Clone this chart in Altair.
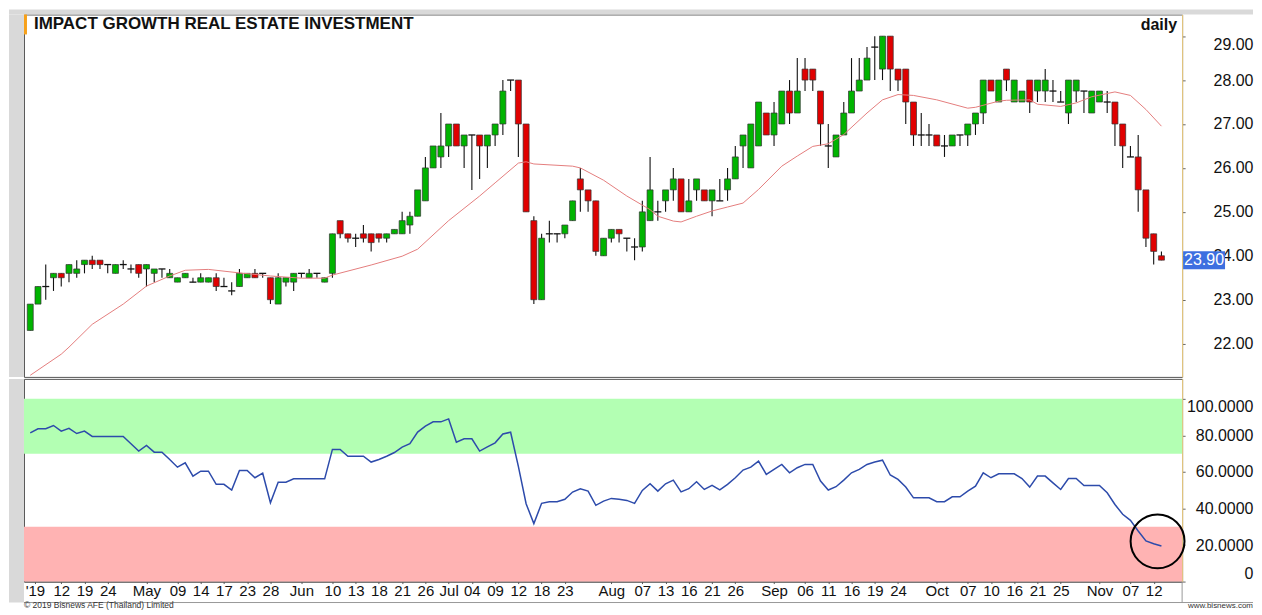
import json
import altair as alt
import pandas as pd

# ---------------- data ----------------
opens = [22.3, 22.9, 23.3, 23.5, 23.6, 23.6, 23.6, 23.8, 23.9, 23.9,
         23.8, 23.6, 23.8, 23.7, 23.8, 23.7, 23.6, 23.7, 23.5, 23.4,
         23.5, 23.4, 23.4, 23.4, 23.5, 23.3, 23.2, 23.3, 23.5, 23.6,
         23.6, 23.5, 22.9, 23.4, 23.4, 23.6, 23.5, 23.6, 23.4, 23.6,
         24.8, 24.5, 24.4, 24.5, 24.5, 24.5, 24.4, 24.5, 24.5, 24.7,
         24.9, 25.25, 26.0, 26.25, 26.5, 27.0, 26.5, 26.75, 26.75, 26.5,
         26.75, 27.0, 28.0, 28.0, 27.0, 24.8, 23.0, 24.5, 24.5, 24.5,
         24.8, 25.75, 25.5, 25.25, 24.0, 24.4, 24.6, 24.4, 24.2, 24.2,
         24.8, 25.0, 25.25, 25.5, 25.75, 25.0, 25.5, 25.5, 25.25, 25.25,
         25.5, 25.75, 26.5, 26.0, 26.5, 27.25, 26.75, 27.0, 27.75, 27.25,
         28.25, 28.25, 27.75, 26.5, 26.25, 26.75, 27.25, 27.75, 28.0, 28.75,
         28.25, 29.0, 28.25, 28.25, 27.5, 26.75, 26.75, 26.75, 26.5, 26.5,
         26.75, 26.75, 27.0, 27.25, 28.0, 27.5, 28.25, 27.5, 27.5, 28.0,
         27.75, 27.75, 27.75, 27.5, 27.25, 27.75, 27.75, 27.25, 27.5, 27.5,
         27.5, 27.0, 26.25, 26.25, 25.5, 24.5, 24.0]
highs = [22.9, 23.3, 23.8, 23.6, 23.6, 23.8, 23.9, 23.9, 24.0, 23.9,
         23.8, 23.8, 23.9, 23.8, 23.8, 23.8, 23.7, 23.7, 23.7, 23.5,
         23.6, 23.5, 23.6, 23.5, 23.6, 23.5, 23.4, 23.7, 23.6, 23.7,
         23.6, 23.5, 23.6, 23.5, 23.6, 23.6, 23.7, 23.6, 23.5, 24.5,
         24.8, 24.5, 24.5, 24.7, 24.5, 24.5, 24.5, 24.6, 25.0, 25.0,
         25.5, 26.25, 26.5, 27.25, 27.0, 27.0, 26.75, 26.75, 26.75, 26.75,
         27.0, 28.0, 28.0, 28.0, 27.0, 24.9, 24.5, 24.8, 24.5, 24.7,
         25.25, 26.0, 25.5, 25.25, 24.4, 24.6, 24.6, 24.4, 24.4, 25.25,
         26.25, 25.25, 25.5, 26.0, 25.75, 25.75, 25.75, 25.5, 25.5, 25.75,
         26.0, 26.5, 26.75, 27.0, 27.5, 27.25, 27.5, 27.75, 28.0, 28.5,
         28.5, 28.25, 27.75, 27.0, 26.75, 27.5, 28.5, 28.5, 28.75, 29.0,
         29.0, 29.0, 28.25, 28.25, 27.5, 27.25, 27.0, 26.75, 26.75, 26.75,
         26.75, 27.0, 27.25, 28.0, 28.0, 28.0, 28.25, 28.0, 27.75, 28.0,
         28.0, 28.25, 28.0, 27.75, 28.0, 28.0, 27.75, 27.75, 27.75, 27.75,
         27.5, 27.0, 26.5, 26.75, 25.5, 24.5, 24.1]
lows = [22.3, 22.9, 23.0, 23.2, 23.3, 23.4, 23.5, 23.6, 23.7, 23.7,
        23.6, 23.6, 23.7, 23.6, 23.5, 23.3, 23.4, 23.5, 23.5, 23.4,
        23.5, 23.4, 23.4, 23.4, 23.2, 23.3, 23.1, 23.3, 23.5, 23.5,
        23.5, 22.9, 22.9, 23.3, 23.2, 23.5, 23.5, 23.5, 23.4, 23.5,
        24.4, 24.3, 24.2, 24.3, 24.1, 24.3, 24.3, 24.5, 24.5, 24.5,
        24.9, 25.25, 26.0, 26.0, 26.25, 26.5, 26.0, 25.5, 25.75, 26.0,
        26.5, 26.75, 27.75, 26.25, 25.0, 22.9, 23.0, 24.3, 24.3, 24.4,
        24.8, 25.0, 25.0, 24.0, 24.0, 24.3, 24.3, 24.1, 23.9, 24.1,
        24.8, 24.8, 25.0, 25.25, 25.0, 25.0, 25.25, 25.25, 24.9, 25.25,
        25.25, 25.75, 26.0, 26.0, 26.5, 26.75, 26.5, 27.0, 27.0, 27.25,
        27.75, 27.75, 26.5, 26.0, 26.25, 26.75, 27.25, 27.75, 28.0, 28.0,
        28.0, 27.75, 27.75, 27.0, 26.5, 26.5, 26.5, 26.5, 26.25, 26.5,
        26.5, 26.5, 26.75, 27.0, 27.75, 27.5, 27.75, 27.5, 27.5, 27.25,
        27.5, 27.5, 27.5, 27.5, 27.0, 27.5, 27.25, 27.25, 27.5, 27.25,
        26.5, 26.0, 26.25, 25.0, 24.2, 23.8, 23.9]
closes = [22.9, 23.3, 23.3, 23.6, 23.5, 23.8, 23.7, 23.9, 23.8, 23.8,
          23.8, 23.8, 23.8, 23.7, 23.6, 23.8, 23.7, 23.7, 23.6, 23.5,
          23.6, 23.4, 23.5, 23.5, 23.3, 23.3, 23.2, 23.6, 23.6, 23.5,
          23.6, 23.0, 23.5, 23.5, 23.6, 23.6, 23.6, 23.6, 23.5, 24.5,
          24.5, 24.4, 24.4, 24.4, 24.3, 24.4, 24.5, 24.6, 24.8, 24.9,
          25.5, 26.0, 26.5, 26.5, 27.0, 26.5, 26.75, 26.75, 26.5, 26.75,
          27.0, 27.75, 28.0, 27.0, 25.0, 23.0, 24.4, 24.5, 24.5, 24.7,
          25.25, 25.5, 25.25, 24.1, 24.4, 24.6, 24.5, 24.4, 24.2, 25.0,
          25.5, 25.0, 25.5, 25.75, 25.0, 25.25, 25.75, 25.25, 25.5, 25.25,
          25.75, 26.25, 26.75, 27.0, 27.5, 26.75, 27.25, 27.75, 27.25, 27.75,
          28.0, 28.0, 27.0, 26.5, 26.75, 27.25, 27.75, 28.0, 28.5, 28.75,
          29.0, 28.25, 28.0, 27.5, 26.75, 26.75, 26.75, 26.5, 26.5, 26.75,
          26.75, 27.0, 27.25, 28.0, 27.75, 28.0, 28.0, 28.0, 27.75, 27.5,
          28.0, 28.0, 27.75, 27.5, 28.0, 28.0, 27.75, 27.75, 27.75, 27.5,
          27.0, 26.5, 26.25, 25.5, 24.4, 24.1, 23.9]

rsi = [81.4, 83.6, 83.6, 85.4, 82.3, 83.8, 81.0, 82.3, 79.4, 79.4,
       79.4, 79.4, 79.4, 75.4, 71.4, 74.5, 70.8, 70.8, 66.8, 62.6,
       65.0, 57.7, 60.4, 60.4, 53.2, 53.2, 50.1, 60.8, 60.8, 56.8,
       59.3, 43.1, 54.4, 54.4, 56.2, 56.2, 56.2, 56.2, 56.2, 72.3,
       72.3, 68.6, 68.6, 68.6, 65.4, 66.8, 68.6, 70.6, 73.6, 75.4,
       81.8, 85.0, 87.4, 87.4, 89.0, 76.3, 78.1, 78.1, 71.4, 73.7,
       75.9, 80.8, 81.7, 63.0, 42.6, 31.7, 42.8, 43.7, 43.7, 45.0,
       49.0, 50.8, 49.5, 41.7, 44.0, 45.5, 45.0, 44.4, 42.8, 49.9,
       53.5, 49.5, 53.5, 55.5, 49.1, 50.8, 54.6, 50.4, 52.6, 50.2,
       53.2, 56.8, 61.0, 62.6, 65.9, 58.6, 61.4, 64.1, 59.5, 62.3,
       64.1, 64.1, 55.0, 50.1, 51.9, 55.5, 59.5, 61.4, 64.1, 65.4,
       66.4, 58.3, 55.9, 51.7, 45.8, 45.8, 45.8, 43.7, 43.7, 46.4,
       46.4, 49.5, 52.2, 59.5, 56.8, 59.0, 59.0, 59.0, 56.4, 51.7,
       57.7, 57.7, 54.0, 50.4, 56.4, 56.4, 52.6, 52.6, 52.6, 48.6,
       42.2, 36.8, 33.5, 27.7, 22.2, 20.7, 19.5]

# moving average read at points along the red line
ma_idx = [0, 4, 5, 8, 12, 15, 18, 20, 23, 27, 31, 35, 38, 39, 44, 48, 50,
          54, 58, 60, 63, 64, 65, 70, 71, 74, 77, 80, 81, 83, 84, 86, 88,
          90, 92, 94, 97, 99, 101, 103, 105, 108, 110, 112, 114, 117, 121,
          122, 125, 126, 129, 130, 133, 135, 137, 140, 142, 144, 146]
ma_val = [21.28, 21.76, 21.92, 22.44, 22.90, 23.31, 23.54, 23.67, 23.69,
          23.61, 23.54, 23.49, 23.49, 23.56, 23.79, 23.99, 24.15, 24.80,
          25.36, 25.66, 26.11, 26.14, 26.09, 26.04, 26.00, 25.72, 25.36,
          25.05, 24.90, 24.79, 24.77, 24.90, 25.02, 25.11, 25.20, 25.51,
          26.04, 26.27, 26.49, 26.55, 26.76, 27.25, 27.55, 27.67, 27.65,
          27.55, 27.36, 27.38, 27.52, 27.54, 27.55, 27.45, 27.40, 27.48,
          27.62, 27.73, 27.65, 27.33, 26.95]

tick_pos = [0.6, 4, 7, 10, 15, 19, 22, 25, 28, 31, 35, 39, 42, 45, 48, 51,
            54, 57, 60, 63, 66, 69, 75, 79, 82, 85, 88, 91, 96, 100, 103,
            106, 109, 112, 117, 121, 124, 127, 130, 133, 138, 142, 145]
tick_lab = ["'19", "12", "19", "24", "May", "09", "14", "17", "23", "28",
            "Jun", "10", "13", "18", "21", "26", "Jul", "04", "09", "12",
            "18", "23", "Aug", "07", "13", "16", "21", "26", "Sep", "06",
            "11", "16", "19", "24", "Oct", "07", "10", "16", "21", "25",
            "Nov", "07", "12"]

price_ticks = [22, 23, 24, 25, 26, 27, 28, 29]
rsi_ticks = [0, 20, 40, 60, 80, 100]
band_lo = [70, 0]
band_hi = [100, 30]
band_col = ["#b3ffb3", "#ffb3b3"]
title_text = "IMPACT GROWTH REAL ESTATE INVESTMENT"
period_text = "daily"
last_price = [23.90]
circle_i = [145.5]
circle_rsi = [22.0]
copyright_text = "\u00a9 2019 Bisnews AFE (Thailand) Limited"
site_text = "www.bisnews.com"

# ---------------- layout constants ----------------
W = 1160
H1 = 363
H2 = 203
RIGHT = 71          # width of the right-hand axis strip
FONT = "Liberation Sans"

df = pd.DataFrame({"i": list(range(len(opens))), "open": opens, "high": highs,
                   "low": lows, "close": closes, "rsi": rsi})
df["dir"] = ["up" if c > o else ("down" if c < o else "flat") for o, c in zip(opens, closes)]
ma_df = pd.DataFrame({"i": ma_idx, "ma": ma_val})
band_df = pd.DataFrame({"lo": band_lo, "hi": band_hi, "col": band_col})

xscale = alt.Scale(domain=[-0.81, 148.67], nice=False, zero=False)
pscale = alt.Scale(domain=[21.243, 29.493], nice=False, zero=False)
rscale = alt.Scale(domain=[0, 110.9], nice=False, zero=False)

x_none = alt.X("i:Q", scale=xscale, axis=None)

price_axis = alt.Axis(orient="right", values=price_ticks, format=".2f", title=None,
                      labelFontSize=16, labelColor="#111", labelAlign="right",
                      labelPadding=RIGHT - 3, tickSize=3, tickColor="#666",
                      domainColor="#f0cf80", grid=False, labelBound=False,
                      labelFlush=False,
                      labelBaseline={"condition": [{"test": "datum.value == 29", "value": "top"}],
                                     "value": "middle"})

rsi_axis = alt.Axis(orient="right", values=rsi_ticks, title=None,
                    labelExpr="datum.value == 0 ? '0' : format(datum.value, '.4f')",
                    labelFontSize=16, labelColor="#111", labelAlign="right",
                    labelPadding=RIGHT - 3, tickSize=3, tickColor="#666",
                    domainColor="#f0cf80", grid=False, labelBound=False,
                    labelFlush=False,
                    labelBaseline={"condition": [{"test": "datum.value == 100", "value": "top"},
                                                 {"test": "datum.value == 0", "value": "bottom"}],
                                   "value": "middle"})

x_label_expr = ("[" + ",".join(json.dumps(s) for s in tick_lab) + "][indexof(["
                + ",".join(str(v) for v in tick_pos) + "], datum.value)]")
x_axis = alt.Axis(values=tick_pos, labelExpr=x_label_expr, title=None,
                  labelFontSize=15, labelColor="#111", labelPadding=0,
                  tickSize=2, tickColor="#555", domainColor="#555",
                  labelOverlap=False, labelFlush=False, labelBound=False, grid=False)

one = pd.DataFrame({"t": [""]})

# ---------------- price panel ----------------
strip_top = alt.Chart(one).mark_rect(color="#d9d9d9").encode(
    x=alt.value(-15), x2=alt.value(W + RIGHT), y=alt.value(-5), y2=alt.value(0))
strip_left = alt.Chart(one).mark_rect(color="#d9d9d9").encode(
    x=alt.value(-15), x2=alt.value(0), y=alt.value(0), y2=alt.value(H1))
orange = alt.Chart(one).mark_rect(color="#f7a11a").encode(
    x=alt.value(0), x2=alt.value(3), y=alt.value(0), y2=alt.value(20))

wicks = alt.Chart(df).mark_rule(color="#111", strokeWidth=1.1).encode(
    x=x_none,
    y=alt.Y("low:Q", scale=pscale, axis=price_axis),
    y2="high:Q")

bodies = alt.Chart(df).transform_filter("datum.dir != 'flat'").mark_rect(
    xOffset=-3, x2Offset=3, stroke="#333", strokeWidth=0.7).encode(
    x=x_none, x2="i:Q",
    y=alt.Y("open:Q", scale=pscale, axis=price_axis),
    y2="close:Q",
    color=alt.Color("dir:N", scale=alt.Scale(domain=["up", "down"],
                                             range=["#00b400", "#e00000"]), legend=None))

dojis = alt.Chart(df).transform_filter("datum.dir == 'flat'").mark_rule(
    xOffset=-3.5, x2Offset=3.5, color="#111", strokeWidth=1.3).encode(
    x=x_none, x2="i:Q",
    y=alt.Y("close:Q", scale=pscale, axis=price_axis))

ma_line = alt.Chart(ma_df).mark_line(color="#e47d7d", strokeWidth=1.0).encode(
    x=x_none, y=alt.Y("ma:Q", scale=pscale, axis=price_axis))

title_mark = alt.Chart(pd.DataFrame({"t": [title_text]})).mark_text(
    align="left", baseline="middle", fontSize=17, fontWeight="bold", color="#111",
    font=FONT).encode(x=alt.value(10), y=alt.value(10), text="t:N")
daily_mark = alt.Chart(pd.DataFrame({"t": [period_text]})).mark_text(
    align="right", baseline="middle", fontSize=16, fontWeight="bold", color="#111",
    font=FONT).encode(x=alt.value(1155), y=alt.value(11), text="t:N")

tag_df = pd.DataFrame({"p": last_price, "t": [f"{v:.2f}" for v in last_price]})
tag_box = alt.Chart(tag_df).mark_point(
    shape="M-1,-0.43L1,-0.43L1,0.43L-1,0.43Z", size=1764, filled=True,
    color="#3d6fe0", opacity=1, strokeWidth=0).encode(
    x=alt.value(W + 22), y=alt.Y("p:Q", scale=pscale, axis=price_axis))
tag_text = alt.Chart(tag_df).mark_text(
    color="white", fontSize=16, font=FONT, align="center", baseline="middle").encode(
    x=alt.value(W + 22), y=alt.Y("p:Q", scale=pscale, axis=price_axis), text="t:N")

price = alt.layer(strip_top, strip_left, orange, wicks, bodies, dojis, ma_line,
                  title_mark, daily_mark, tag_box, tag_text).properties(width=W, height=H1)

# ---------------- RSI panel ----------------
strip_left2 = alt.Chart(one).mark_rect(color="#d9d9d9").encode(
    x=alt.value(-15), x2=alt.value(0), y=alt.value(0), y2=alt.value(H2 + 21))
bands = alt.Chart(band_df).mark_rect().encode(
    x=alt.value(0), x2=alt.value(W),
    y=alt.Y("lo:Q", scale=rscale, axis=rsi_axis), y2="hi:Q",
    color=alt.Color("col:N", scale=None))
rsi_line = alt.Chart(df).mark_line(color="#2d4bab", strokeWidth=1.5).encode(
    x=alt.X("i:Q", scale=xscale, axis=x_axis),
    y=alt.Y("rsi:Q", scale=rscale, axis=rsi_axis))
circle = alt.Chart(pd.DataFrame({"i": circle_i, "r": circle_rsi})).mark_point(
    shape="circle", size=2916, filled=False, color="black", strokeWidth=2, opacity=1).encode(
    x=alt.X("i:Q", scale=xscale, axis=x_axis),
    y=alt.Y("r:Q", scale=rscale, axis=rsi_axis))
# frame lines of the date strip
date_base = alt.Chart(one).mark_rule(color="#999", strokeWidth=1).encode(
    x=alt.value(0), x2=alt.value(W + RIGHT), y=alt.value(H2 + 21))
date_div = alt.Chart(one).mark_rule(color="#999", strokeWidth=1).encode(
    x=alt.value(W), y=alt.value(H2), y2=alt.value(H2 + 21))
copy_mark = alt.Chart(pd.DataFrame({"t": [copyright_text]})).mark_text(
    align="left", baseline="bottom", fontSize=8.5, color="#333", font=FONT).encode(
    x=alt.value(0), y=alt.value(H2 + 28), text="t:N")
site_mark = alt.Chart(pd.DataFrame({"t": [site_text]})).mark_text(
    align="right", baseline="bottom", fontSize=8, color="#333", font=FONT).encode(
    x=alt.value(W + RIGHT), y=alt.value(H2 + 28), text="t:N")

rsi_chart = alt.layer(strip_left2, bands, rsi_line, circle, date_base, date_div,
                      copy_mark, site_mark).properties(width=W, height=H2)

chart = alt.vconcat(price, rsi_chart, spacing=0).properties(
    padding={"left": 0, "top": 0, "right": 0, "bottom": 0},
    background="white"
).configure(font=FONT).configure_view(stroke="#555", strokeWidth=1).configure_axis(grid=False)

chart.save("out.html", embed_options={"renderer": "svg", "actions": False})
